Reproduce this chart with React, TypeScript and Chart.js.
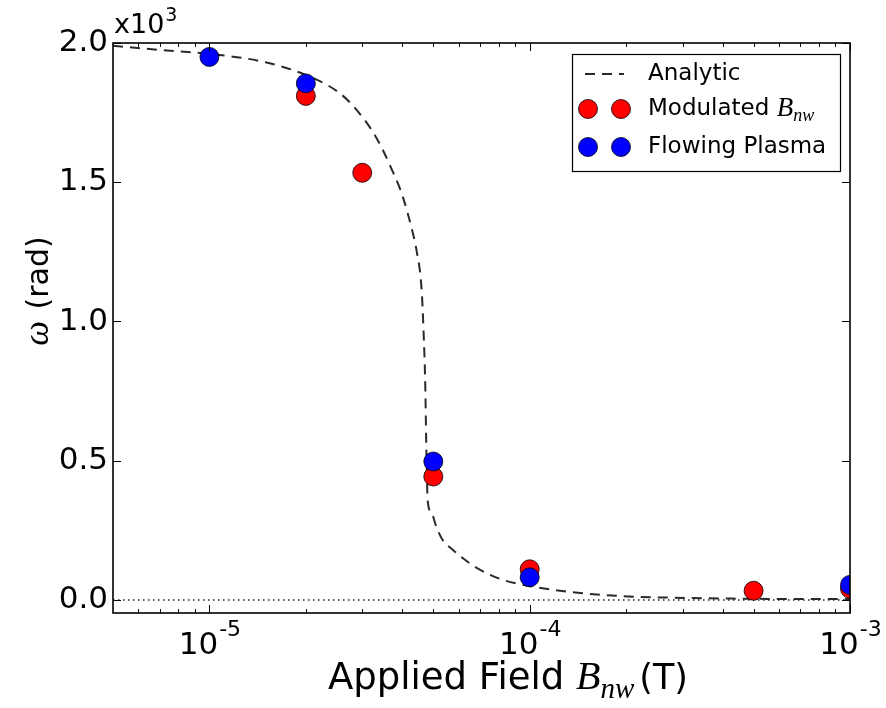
import React, { useEffect, useRef } from 'react';
import { Chart, registerables } from 'chart.js';
Chart.register(...registerables);

// Analytic curve (omega in units of 10^3 rad) vs applied field (T)
const analyticB = [5e-6, 7e-6, 1.074e-5, 1.507e-5, 2.05e-5, 2.55e-5, 2.88e-5, 3.32e-5, 3.73e-5, 4.01e-5, 4.31e-5, 4.43e-5, 4.6e-5, 4.66e-5, 4.72e-5, 4.75e-5, 4.77e-5, 4.8e-5, 4.94e-5, 5.12e-5, 5.35e-5, 5.75e-5, 6.17e-5, 6.83e-5, 8.24e-5, 1e-4, 1.33e-4, 1.91e-4, 3.1e-4, 5e-4, 1e-3];
const analyticW = [1.99, 1.975, 1.957, 1.93, 1.88, 1.82, 1.76, 1.66, 1.54, 1.45, 1.32, 1.257, 1.11, 0.97, 0.77, 0.58, 0.48, 0.36, 0.312, 0.26, 0.215, 0.18, 0.151, 0.115, 0.072, 0.05, 0.029, 0.014, 0.007, 0.004, 0.003];

// Modulated B_nw (red)
const modulatedB = [2e-5, 3e-5, 5e-5, 1e-4, 5e-4, 1e-3];
const modulatedW = [1.81, 1.534, 0.443, 0.11, 0.033, 0.04];

// Flowing plasma (blue)
const flowingB = [1e-5, 2e-5, 5e-5, 1e-4, 1e-3];
const flowingW = [1.95, 1.855, 0.497, 0.081, 0.054];

// Axes
const xMin = 5e-6;
const xMax = 1e-3;
const yMin = -0.047;
const yMax = 2.0;
const yTicks = [0.0, 0.5, 1.0, 1.5, 2.0];
const xTickExponents = [-5, -4, -3];
const xMinorMultipliers = [2, 3, 4, 5, 6, 7, 8, 9];

const SANS = '"DejaVu Sans", sans-serif';
const SERIF = '"Liberation Serif", "DejaVu Serif", serif';

const decorPlugin = {
  id: 'decor',
  afterDraw(chart: any) {
    const ctx = chart.ctx as CanvasRenderingContext2D;
    const { left, right, top, bottom } = chart.chartArea;
    const xs = chart.scales.x;
    const ys = chart.scales.y;
    ctx.save();
    ctx.strokeStyle = '#000';
    ctx.fillStyle = '#000';
    // frame
    ctx.lineWidth = 1.6;
    ctx.strokeRect(left, top, right - left, bottom - top);
    ctx.lineWidth = 1;
    const seg = (x1: number, y1: number, x2: number, y2: number) => {
      ctx.beginPath();
      ctx.moveTo(x1, y1);
      ctx.lineTo(x2, y2);
      ctx.stroke();
    };
    // y ticks (inward, both sides)
    for (const v of yTicks) {
      const py = Math.round(ys.getPixelForValue(v)) + 0.5;
      seg(left, py, left + 8, py);
      seg(right, py, right - 8, py);
    }
    // x ticks (inward, bottom and top)
    const decades = [-6, -5, -4];
    for (const e of decades) {
      for (const m of xMinorMultipliers) {
        const v = m * Math.pow(10, e);
        if (v < xMin || v > xMax) continue;
        const px = Math.round(xs.getPixelForValue(v)) + 0.5;
        seg(px, bottom, px, bottom - 4);
        seg(px, top, px, top + 4);
      }
    }
    for (const e of xTickExponents) {
      const px = Math.round(xs.getPixelForValue(Math.pow(10, e))) + 0.5;
      seg(px, bottom, px, bottom - 8);
      seg(px, top, px, top + 8);
    }
    // x tick labels 10^e
    for (const e of xTickExponents) {
      const px = xs.getPixelForValue(Math.pow(10, e));
      const base = '10';
      const sup = String(e);
      ctx.font = `31px ${SANS}`;
      const wb = ctx.measureText(base).width;
      ctx.font = `22px ${SANS}`;
      const ws = ctx.measureText(sup).width;
      const x0 = px - (wb + ws) / 2;
      ctx.textAlign = 'left';
      ctx.textBaseline = 'alphabetic';
      ctx.font = `31px ${SANS}`;
      ctx.fillText(base, x0, 654);
      ctx.font = `22px ${SANS}`;
      ctx.fillText(sup, x0 + wb + 1, 636);
    }
    // offset text x10^3
    ctx.font = `27px ${SANS}`;
    ctx.fillText('x10', 114, 33);
    const wx = ctx.measureText('x10').width;
    ctx.font = `19px ${SANS}`;
    ctx.fillText('3', 114 + wx + 1, 21);

    // x axis title: Applied Field B_nw (T)
    let cx = 328;
    const by = 689;
    ctx.font = `37px ${SANS}`;
    ctx.fillText('Applied Field', cx, by);
    cx += ctx.measureText('Applied Field ').width;
    ctx.font = `italic 40px ${SERIF}`;
    ctx.fillText('B', cx, by);
    cx += ctx.measureText('B').width;
    ctx.font = `italic 29px ${SERIF}`;
    ctx.fillText('nw', cx, by + 9);
    cx += ctx.measureText('nw').width + 5;
    ctx.font = `35px ${SANS}`;
    ctx.fillText('(T)', cx, by);

    // y axis title: ω (rad)
    ctx.save();
    ctx.translate(48, 292);
    ctx.rotate(-Math.PI / 2);
    ctx.font = `italic 35px ${SERIF}`;
    const wo = ctx.measureText('ω').width;
    ctx.font = `30px ${SANS}`;
    const wr = ctx.measureText(' (rad)').width;
    const sx = -(wo + wr) / 2;
    ctx.font = `italic 35px ${SERIF}`;
    ctx.fillText('ω', sx, 0);
    ctx.font = `30px ${SANS}`;
    ctx.fillText(' (rad)', sx + wo + 2, 0);
    ctx.restore();

    // legend
    const ds = chart.data.datasets;
    const lx = 572, ly = 54, lw = 268, lh = 117;
    ctx.fillStyle = '#fff';
    ctx.fillRect(lx, ly, lw, lh);
    ctx.strokeStyle = '#000';
    ctx.lineWidth = 1.2;
    ctx.strokeRect(lx + 0.5, ly + 0.5, lw, lh);
    const rows = [
      { d: ds[2], y: 74 },
      { d: ds[1], y: 109 },
      { d: ds[0], y: 147 },
    ];
    for (const r of rows) {
      const d: any = r.d;
      if (d.showLine) {
        ctx.strokeStyle = d.borderColor;
        ctx.lineWidth = d.borderWidth;
        ctx.setLineDash(d.borderDash);
        seg(585, r.y, 624, r.y);
        ctx.setLineDash([]);
      } else {
        for (const mx of [588, 621]) {
          ctx.beginPath();
          ctx.arc(mx, r.y, d.pointRadius, 0, Math.PI * 2);
          ctx.fillStyle = d.backgroundColor;
          ctx.fill();
          ctx.strokeStyle = '#000';
          ctx.lineWidth = d.borderWidth;
          ctx.stroke();
        }
      }
      ctx.fillStyle = '#000';
      ctx.textBaseline = 'middle';
      ctx.font = `23px ${SANS}`;
      if (d.label === 'Modulated B_nw') {
        let tx = 648;
        ctx.fillText('Modulated ', tx, r.y);
        tx += ctx.measureText('Modulated ').width;
        ctx.font = `italic 27px ${SERIF}`;
        ctx.fillText('B', tx, r.y);
        tx += ctx.measureText('B').width;
        ctx.font = `italic 18px ${SERIF}`;
        ctx.fillText('nw', tx, r.y + 7);
      } else {
        ctx.fillText(d.label, 648, r.y);
      }
    }
    ctx.restore();
  },
};

export default function App() {
  const ref = useRef<HTMLCanvasElement | null>(null);
  useEffect(() => {
    if (!ref.current) return;
    const chart = new Chart(ref.current, {
      type: 'scatter',
      data: {
        datasets: [
          {
            label: 'Flowing Plasma',
            data: flowingB.map((b, i) => ({ x: b, y: flowingW[i] })),
            backgroundColor: '#0000ff',
            borderColor: '#000',
            borderWidth: 0.8,
            pointRadius: 9.5,
            showLine: false,
            order: 0,
          },
          {
            label: 'Modulated B_nw',
            data: modulatedB.map((b, i) => ({ x: b, y: modulatedW[i] })),
            backgroundColor: '#ff0000',
            borderColor: '#000',
            borderWidth: 0.8,
            pointRadius: 9.5,
            showLine: false,
            order: 1,
          },
          {
            label: 'Analytic',
            data: analyticB.map((b, i) => ({ x: b, y: analyticW[i] })),
            showLine: true,
            borderColor: '#2a2a2a',
            borderWidth: 2,
            borderDash: [10, 7],
            pointRadius: 0,
            cubicInterpolationMode: 'monotone',
            order: 2,
          },
          {
            label: 'zero',
            data: [{ x: xMin, y: 0 }, { x: xMax, y: 0 }],
            showLine: true,
            borderColor: '#222',
            borderWidth: 1.5,
            borderDash: [1.5, 3.5],
            pointRadius: 0,
            order: 3,
          },
        ] as any,
      },
      options: {
        animation: false,
        responsive: false,
        maintainAspectRatio: false,
        layout: { padding: { top: 43, right: 36, bottom: 0, left: 0 } },
        plugins: { legend: { display: false }, tooltip: { enabled: false } },
        scales: {
          x: {
            type: 'logarithmic',
            min: xMin,
            max: xMax,
            grid: { display: false, drawTicks: false },
            border: { display: false },
            ticks: { display: false },
            afterFit: (s: any) => { s.height = 95; },
          },
          y: {
            type: 'linear',
            min: yMin,
            max: yMax,
            grid: { display: false, drawTicks: false },
            border: { display: false },
            ticks: {
              stepSize: 0.5,
              includeBounds: false,
              padding: 5,
              color: '#000',
              font: { family: 'DejaVu Sans', size: 31 },
              callback: (v: any) => Number(v).toFixed(1),
            },
            afterFit: (s: any) => { s.width = 113; },
          },
        },
      } as any,
      plugins: [decorPlugin],
    });
    return () => chart.destroy();
  }, []);
  return (
    <div style={{ position: 'fixed', left: 0, top: 0, width: 886, height: 708, background: '#fff' }}>
      <canvas ref={ref} width={886} height={708} style={{ width: 886, height: 708 }} />
    </div>
  );
}
